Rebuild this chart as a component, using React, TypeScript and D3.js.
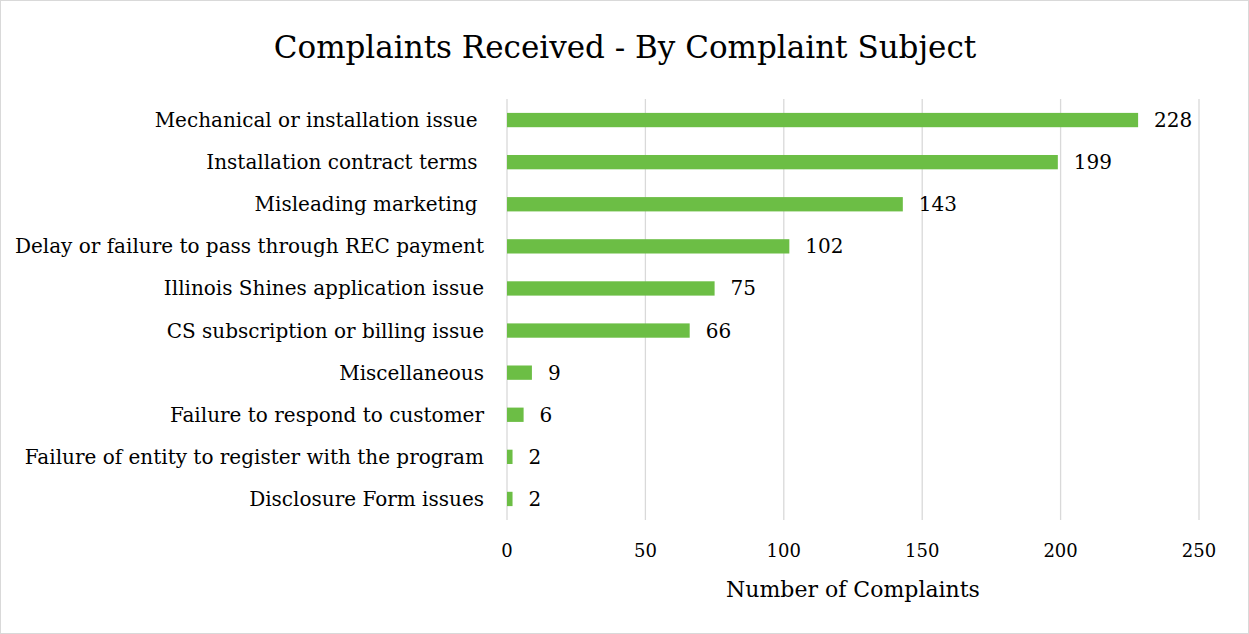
import React, { useEffect, useRef } from 'react';
import * as d3 from 'd3';

// trailing spaces are in the source labels
const categories = [
  'Mechanical or installation issue ',
  'Installation contract terms ',
  'Misleading marketing ',
  'Delay or failure to pass through REC payment',
  'Illinois Shines application issue',
  'CS subscription or billing issue',
  'Miscellaneous',
  'Failure to respond to customer',
  'Failure of entity to register with the program',
  'Disclosure Form issues',
];
const complaints = [228, 199, 143, 102, 75, 66, 9, 6, 2, 2];
const xTicks = [0, 50, 100, 150, 200, 250];

const FONT = '"DejaVu Serif", "Liberation Serif", serif';

const App = () => {
  const svgRef = useRef<SVGSVGElement>(null);

  useEffect(() => {
    const W = 1249;
    const H = 634;
    const left = 507;
    const right = 1199;
    const top = 99;
    const bottom = 520;

    const svg = d3.select(svgRef.current);
    svg.selectAll('*').remove();

    svg.append('rect')
      .attr('x', 0.5).attr('y', 0.5)
      .attr('width', W - 1).attr('height', H - 1)
      .attr('fill', 'white')
      .attr('stroke', '#d9d9d9');

    const x = d3.scaleLinear().domain([0, 250]).range([left, right]);
    const y = d3.scaleBand().domain(categories).range([top, bottom]).paddingInner(0.66).paddingOuter(0.33);

    // gridlines
    svg.append('g')
      .selectAll('line')
      .data(xTicks)
      .join('line')
      .attr('x1', d => x(d)).attr('x2', d => x(d))
      .attr('y1', top).attr('y2', bottom)
      .attr('stroke', '#d9d9d9')
      .attr('stroke-width', 1.3);

    // bars
    svg.append('g')
      .selectAll('rect')
      .data(complaints)
      .join('rect')
      .attr('x', x(0))
      .attr('y', (d, i) => y(categories[i])!)
      .attr('width', d => x(d) - x(0))
      .attr('height', y.bandwidth())
      .attr('fill', '#6cbe45');

    // value labels
    svg.append('g')
      .selectAll('text')
      .data(complaints)
      .join('text')
      .attr('x', d => x(d) + 16)
      .attr('y', (d, i) => y(categories[i])! + y.bandwidth() / 2)
      .attr('dy', '0.35em')
      .attr('font-family', FONT)
      .attr('font-size', 20)
      .attr('fill', '#000')
      .text(d => d);

    // category labels
    svg.append('g')
      .selectAll('text')
      .data(categories)
      .join('text')
      .attr('x', left - 23)
      .attr('y', d => y(d)! + y.bandwidth() / 2)
      .attr('dy', '0.35em')
      .attr('text-anchor', 'end')
      .attr('font-family', FONT)
      .attr('font-size', 20)
      .attr('fill', '#000')
      .style('white-space', 'pre')
      .text(d => d);

    // x tick labels
    svg.append('g')
      .selectAll('text')
      .data(xTicks)
      .join('text')
      .attr('x', d => x(d))
      .attr('y', 551)
      .attr('dy', '0.35em')
      .attr('text-anchor', 'middle')
      .attr('font-family', FONT)
      .attr('font-size', 18)
      .attr('fill', '#000')
      .text(d => d);

    // axis title
    svg.append('text')
      .attr('x', (left + right) / 2)
      .attr('y', 589)
      .attr('dy', '0.35em')
      .attr('text-anchor', 'middle')
      .attr('font-family', FONT)
      .attr('font-size', 22)
      .attr('fill', '#000')
      .text('Number of Complaints');

    // title
    svg.append('text')
      .attr('x', 625)
      .attr('y', 47)
      .attr('dy', '0.35em')
      .attr('text-anchor', 'middle')
      .attr('font-family', FONT)
      .attr('font-size', 31)
      .attr('fill', '#000')
      .text('Complaints Received - By Complaint Subject');
  }, []);

  return (
    <div style={{ position: 'absolute', left: 0, top: 0 }}>
      <svg ref={svgRef} width={1249} height={634} />
    </div>
  );
};

export default App;
